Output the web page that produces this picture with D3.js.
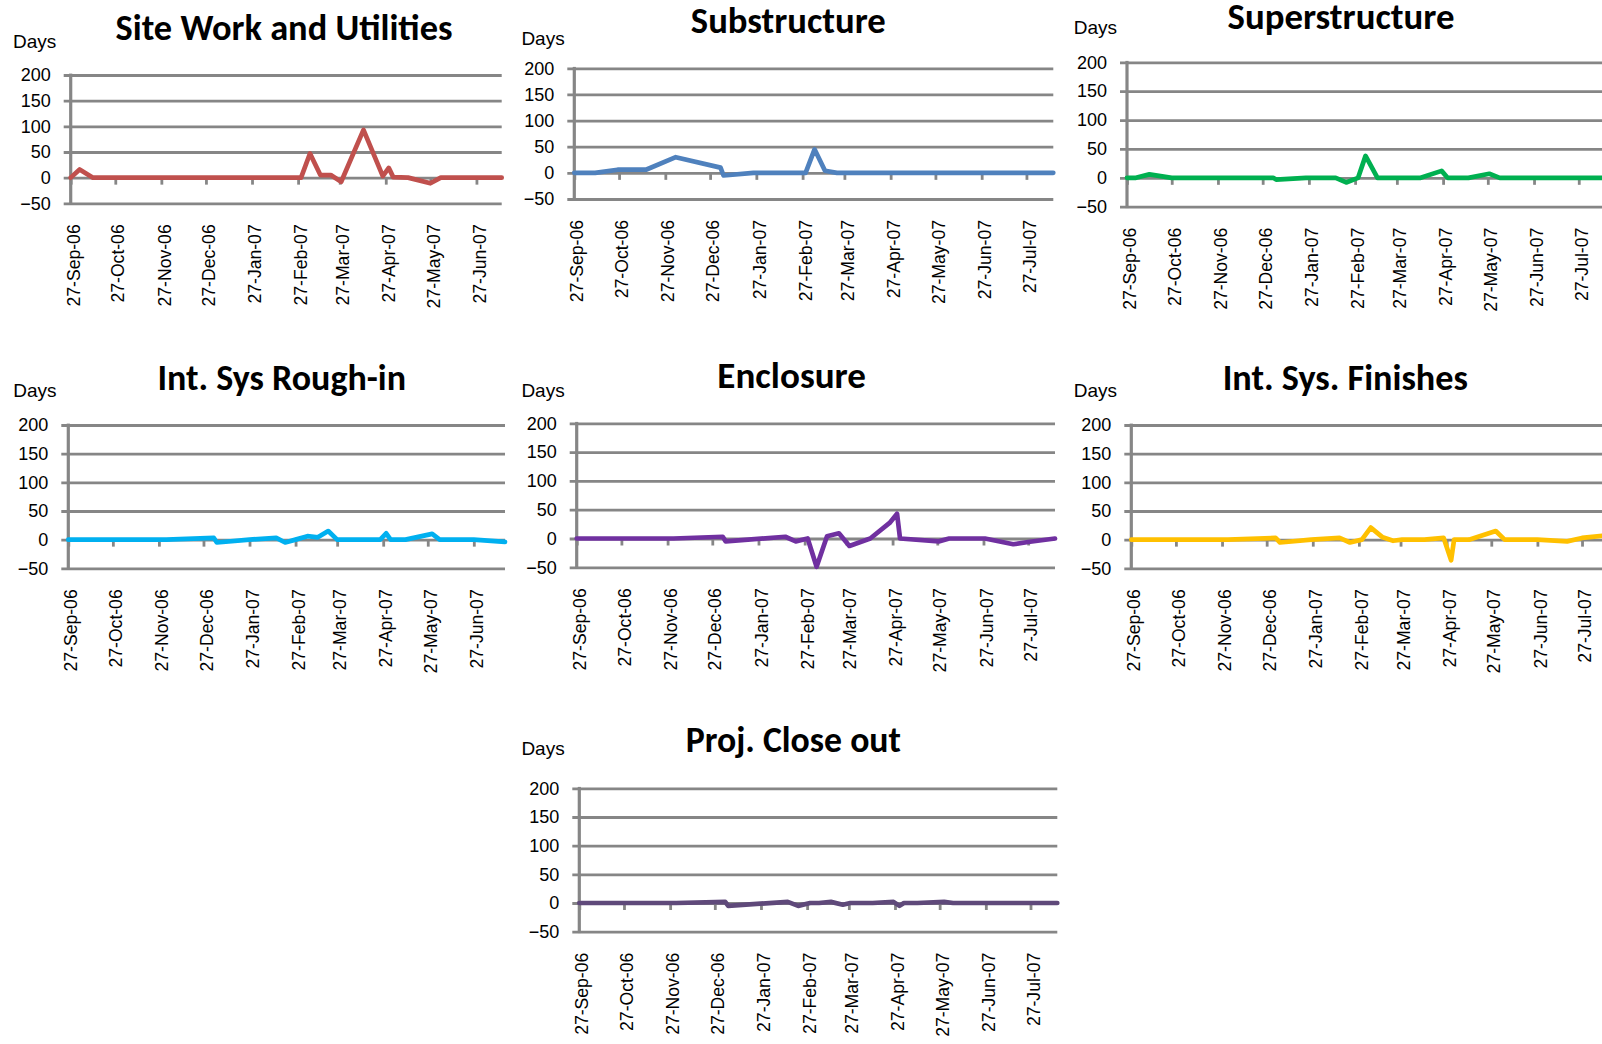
<!DOCTYPE html>
<html><head><meta charset="utf-8">
<script src="https://cdn.jsdelivr.net/npm/d3@7"></script>
<style>html,body{margin:0;padding:0;background:#fff;} svg{display:block;}</style>
</head><body>
<svg id="chart" width="1602" height="1044"></svg>
<script>
// ---------- data ----------
const seriesNames = ["Site Work and Utilities","Substructure","Superstructure","Int. Sys Rough-in","Enclosure","Int. Sys. Finishes","Proj. Close out"];
const tickLabels = ["27-Sep-06","27-Oct-06","27-Nov-06","27-Dec-06","27-Jan-07","27-Feb-07","27-Mar-07","27-Apr-07","27-May-07","27-Jun-07","27-Jul-07"];
const yTickValues = [-50,0,50,100,150,200];
const axisLabel = "Days";
const startDate = "2006-09-27";
const endDates = ["2007-07-14","2007-08-14","2007-08-14","2007-07-18","2007-08-14","2007-08-14","2007-08-14"];

const siteDates = ["2006-09-27","2006-10-03","2006-10-12","2007-03-01","2007-03-07","2007-03-14","2007-03-21","2007-03-28","2007-04-12","2007-04-25","2007-04-29","2007-05-02","2007-05-12","2007-05-27","2007-06-03","2007-07-14"];
const siteValues = [0,16,0,0,47,5,5,-8,93,3,19,1,0,-11,0,0];

const subDates = ["2006-09-27","2006-10-11","2006-10-26","2006-11-14","2006-12-04","2007-01-03","2007-01-05","2007-01-25","2007-03-01","2007-03-07","2007-03-14","2007-03-22","2007-08-14"];
const subValues = [0,0,6,6,30,10,-5,0,0,45,4,0,0];

const superDates = ["2006-09-27","2006-10-03","2006-10-12","2006-10-27","2007-01-03","2007-01-05","2007-01-25","2007-02-14","2007-02-21","2007-03-01","2007-03-06","2007-03-14","2007-04-12","2007-04-26","2007-04-30","2007-05-14","2007-05-28","2007-06-04","2007-08-14"];
const superValues = [0,0,6,0,0,-3,0,0,-8,0,38,0,0,12,0,0,7,0,0];

const roughDates = ["2006-09-27","2006-12-02","2007-01-03","2007-01-05","2007-01-27","2007-02-14","2007-02-20","2007-02-27","2007-03-07","2007-03-14","2007-03-21","2007-03-27","2007-04-25","2007-04-29","2007-05-02","2007-05-12","2007-05-30","2007-06-04","2007-06-27","2007-07-18"];
const roughValues = [0,0,3,-5,0,3,-5,0,6,4,15,0,0,11,0,0,10,0,0,-4];

const enclDates = ["2006-09-27","2006-12-01","2007-01-03","2007-01-05","2007-02-14","2007-02-21","2007-03-01","2007-03-07","2007-03-14","2007-03-22","2007-03-29","2007-04-12","2007-04-25","2007-04-30","2007-05-02","2007-05-28","2007-06-04","2007-06-28","2007-07-17","2007-07-27","2007-08-14"];
const enclValues = [0,0,3,-5,3,-5,0,-49,4,9,-13,0,27,43,0,-5,0,0,-10,-6,0];

const finDates = ["2006-09-27","2006-12-01","2007-01-02","2007-01-05","2007-01-26","2007-02-14","2007-02-21","2007-03-01","2007-03-07","2007-03-15","2007-03-22","2007-03-28","2007-04-12","2007-04-25","2007-04-30","2007-05-02","2007-05-12","2007-05-30","2007-06-05","2007-06-27","2007-07-17","2007-07-27","2007-08-14"];
const finValues = [0,0,3,-5,0,3,-5,0,21,4,-2,0,0,3,-36,0,0,15,0,0,-3,3,8];

const closeDates = ["2006-09-27","2006-12-01","2007-01-03","2007-01-05","2007-02-14","2007-02-21","2007-03-01","2007-03-07","2007-03-15","2007-03-23","2007-03-28","2007-04-12","2007-04-26","2007-04-30","2007-05-03","2007-05-12","2007-05-30","2007-06-05","2007-08-14"];
const closeValues = [0,0,2,-5,2,-5,0,0,2,-3,0,0,2,-5,0,0,2,0,0];

const seriesDates = [siteDates, subDates, superDates, roughDates, enclDates, finDates, closeDates];
const seriesValues = [siteValues, subValues, superValues, roughValues, enclValues, finValues, closeValues];

// ---------- layout & style ----------
const colors = ["#C0504D","#4F81BD","#00B050","#00B0F0","#7030A0","#FFC000","#5F497A"];
const layout = [
  {x0:70.7,  x1:501.7,  yTop:75,    yBot:203.3, tX:284,    tY:40,    tW:335,   dX:13,    dY:48},
  {x0:574.3, x1:1053.3, yTop:68.3,  yBot:199,   tX:788.3,  tY:33,    tW:193,   dX:521.4, dY:45},
  {x0:1127,  x1:1605.6, yTop:62.3,  yBot:206.7, tX:1341,   tY:28.5,  tW:225,   dX:1073.8,dY:34},
  {x0:68.3,  x1:505,    yTop:425,   yBot:568.3, tX:281.7,  tY:390,   tW:246.7, dX:13.3,  dY:396.7},
  {x0:576.7, x1:1055,   yTop:423.3, yBot:567.3, tX:791.7,  tY:388.3, tW:146.7, dX:521.4, dY:396.7},
  {x0:1131.3,x1:1608.8, yTop:425,   yBot:568.3, tX:1345.3, tY:390,   tW:243.3, dX:1073.8,dY:396.7},
  {x0:579.3, x1:1057.3, yTop:788.3, yBot:931.7, tX:793.3,  tY:751.7, tW:213.3, dX:521.4, dY:755}
];
const gridColor = "#868686";
const tickFont = "'Liberation Sans', Arial, sans-serif";
const titleFont = "Carlito, Calibri, Lato, sans-serif";

const parseISO = d3.timeParse("%Y-%m-%d");
const parseTick = d3.timeParse("%d-%b-%y");
const fmtTick = d3.timeFormat("%d-%b-%y");
const svg = d3.select("#chart");

seriesNames.forEach((name, i) => {
  const L = layout[i];
  const start = parseISO(startDate), end = parseISO(endDates[i]);
  const x = d3.scaleTime().domain([start, end]).range([L.x0, L.x1]);
  const y = d3.scaleLinear().domain([-50, 200]).range([L.yBot, L.yTop]);
  const ticks = tickLabels.map(parseTick).filter(d => d <= end);
  const g = svg.append("g");
  const w = L.x1 - L.x0;

  // gridlines (with outward tick marks)
  const grid = g.append("g").attr("transform", `translate(${L.x0 - 7},0)`)
    .call(d3.axisLeft(y).tickValues(yTickValues).tickSize(-(w + 7)).tickSizeOuter(0).tickFormat(""));
  grid.select(".domain").remove();
  grid.selectAll(".tick line").attr("stroke", gridColor).attr("stroke-width", 2.8);

  // y labels
  const yl = g.append("g").attr("transform", `translate(${L.x0},0)`)
    .call(d3.axisLeft(y).tickValues(yTickValues).tickSize(0).tickPadding(20));
  yl.select(".domain").remove();
  yl.selectAll("text").style("font-family", tickFont).style("font-size", "18px").attr("fill", "#000");

  // x tick marks on zero line
  const xt = g.append("g").attr("transform", `translate(0,${y(0)})`)
    .call(d3.axisBottom(x).tickValues(ticks).tickSize(7).tickSizeOuter(0).tickFormat(""));
  xt.select(".domain").remove();
  xt.selectAll(".tick line").attr("stroke", gridColor).attr("stroke-width", 2.8);

  // y axis line
  g.append("line").attr("x1", L.x0).attr("x2", L.x0).attr("y1", L.yTop - 1.4).attr("y2", L.yBot + 1.4)
    .attr("stroke", gridColor).attr("stroke-width", 3.2);

  // x labels at bottom, rotated
  const xl = g.append("g").attr("transform", `translate(0,${L.yBot})`)
    .call(d3.axisBottom(x).tickValues(ticks).tickSize(0).tickFormat(fmtTick));
  xl.select(".domain").remove();
  xl.selectAll("text")
    .style("font-family", tickFont).style("font-size", "17.6px").attr("fill", "#000")
    .attr("text-anchor", "end")
    .attr("dy", "0.35em").attr("y", 0)
    .attr("transform", "translate(2.5,21) rotate(-90)");

  // line
  const pts = seriesDates[i].map((d, k) => ({d: parseISO(d), v: seriesValues[i][k]}));
  g.append("path").datum(pts)
    .attr("fill", "none").attr("stroke", colors[i]).attr("stroke-width", 4.7)
    .attr("stroke-linejoin", "round").attr("stroke-linecap", "round")
    .attr("d", d3.line().x(p => x(p.d)).y(p => y(p.v)));

  // Days label
  g.append("text").attr("x", L.dX).attr("y", L.dY)
    .style("font-family", tickFont).style("font-size", "19px").attr("fill", "#000").text(axisLabel);

  // title
  const t = g.append("text").attr("x", L.tX).attr("y", L.tY).attr("text-anchor", "middle")
    .style("font-family", titleFont).style("font-weight", "700").style("font-size", "32px")
    .attr("fill", "#000").text(name);
  const tw = t.node().getComputedTextLength();
  t.style("font-size", (32 * (L.tW + 2) / tw).toFixed(2) + "px");
});
</script>
</body></html>
